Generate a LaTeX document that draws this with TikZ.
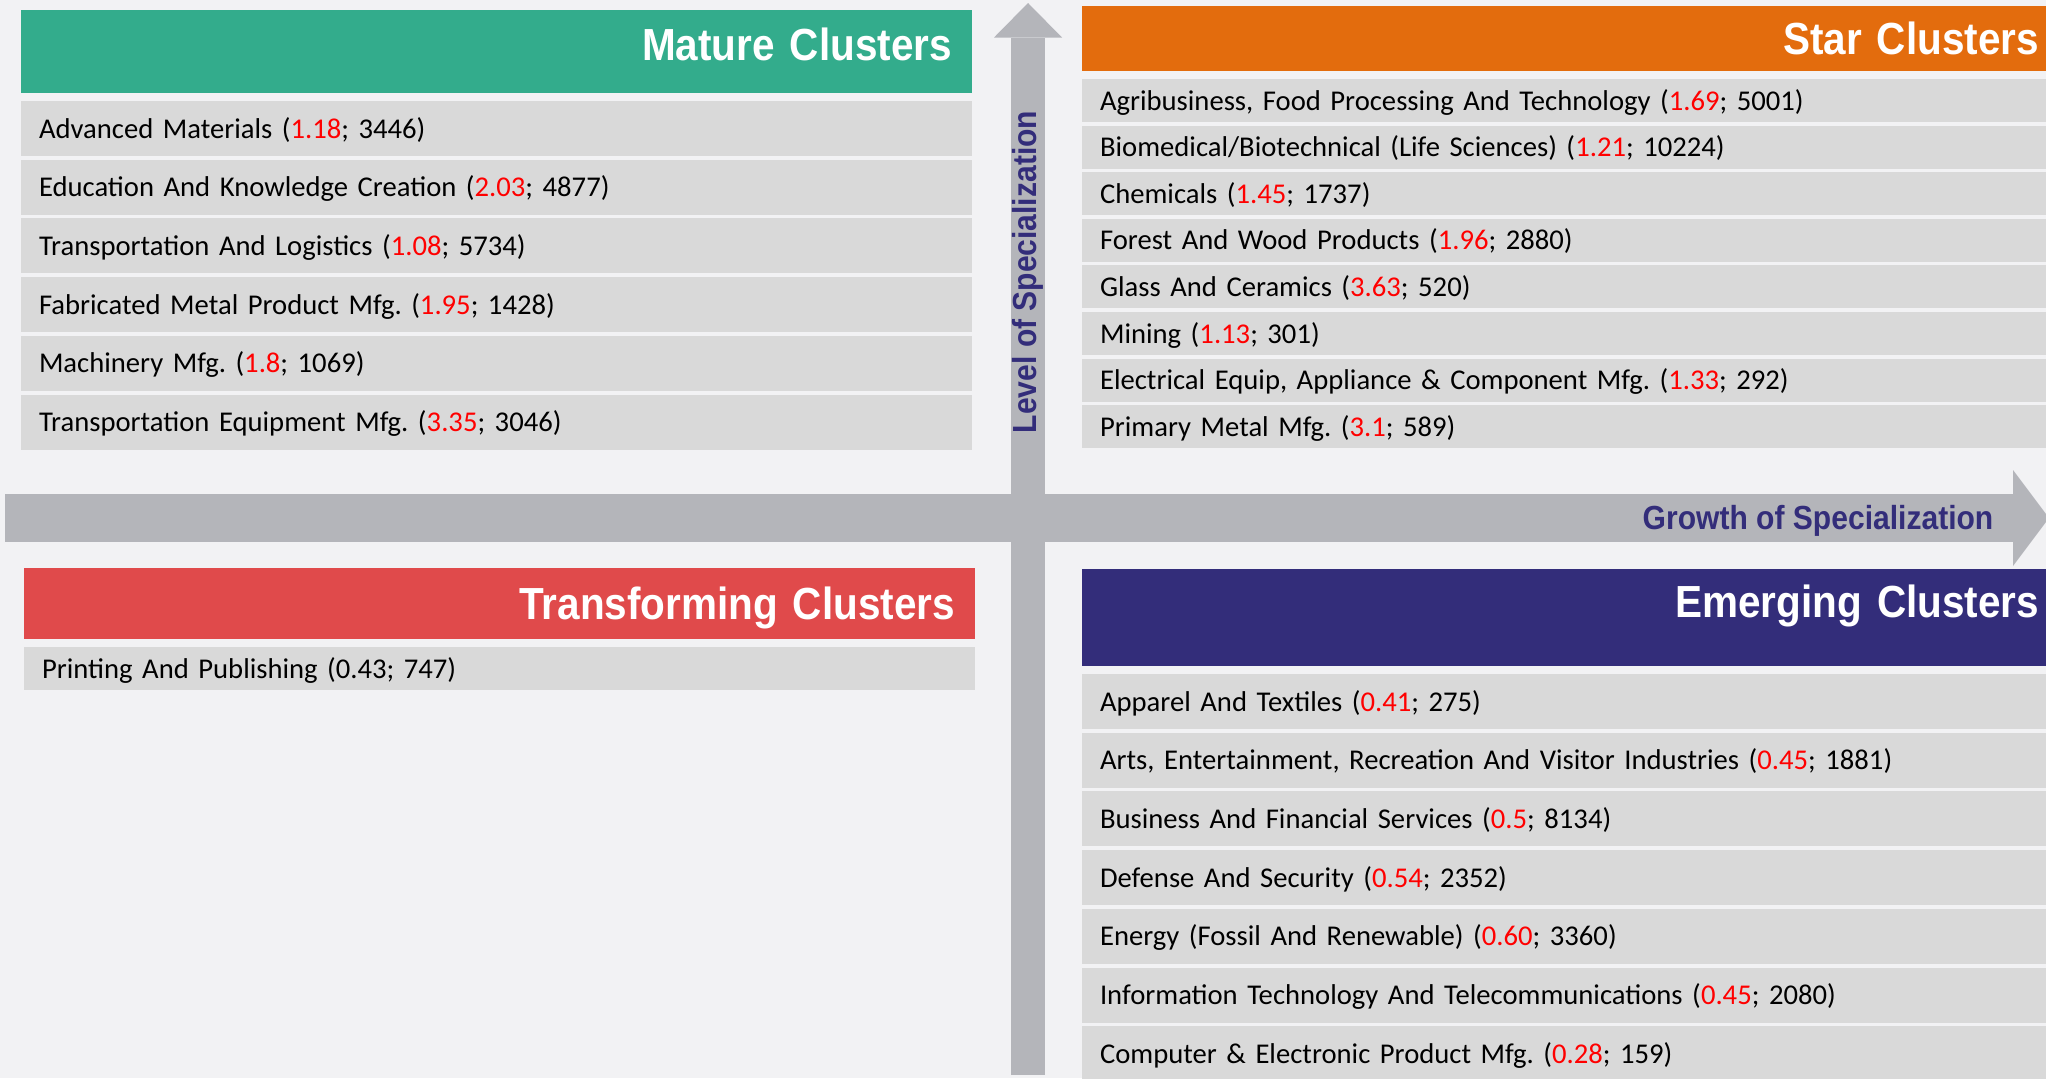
\documentclass[tikz,border=0pt]{standalone}
\usepackage{fontspec}
\setmainfont{Carlito}
\newfontfamily\headfont[FakeStretch=0.9]{Liberation Sans Bold}
\usepackage{tikz}
\usetikzlibrary{arrows.meta, positioning}

\definecolor{pagegrey}{HTML}{F2F2F4}
\definecolor{rowgrey}{HTML}{D9D9D9}
\definecolor{axisgrey}{HTML}{B4B5BA}
\definecolor{maturegreen}{HTML}{33AC8C}
\definecolor{starorange}{HTML}{E36C0D}
\definecolor{transred}{HTML}{E04A4B}
\definecolor{emergenavy}{HTML}{332D7A}
\definecolor{lqred}{HTML}{FF0000}

\newcommand{\lqval}[1]{\textcolor{lqred}{#1}}

\tikzstyle{header} = [rectangle, inner xsep=2mm, inner ysep=0pt, align=right,
    text=white, text height=3.2mm, font=\headfont\fontsize{12.8}{14}\selectfont]
\tikzstyle{cluster} = [rectangle, fill=rowgrey, inner xsep=1.8mm, inner ysep=0pt,
    align=left, text height=1.9mm, text depth=0pt, font=\fontsize{8.15}{10}\selectfont\frenchspacing]
\tikzstyle{westrow} = [cluster, text width=91.5mm, minimum height=5.5mm]
\tikzstyle{eastrow} = [cluster, text width=94.1mm, minimum height=5.5mm]
\tikzstyle{axis} = [draw, axisgrey]
\tikzstyle{axislabel} = [inner sep=0pt, text=emergenavy,
    font=\headfont\fontsize{9.5}{11}\selectfont]

\begin{document}
\begin{tikzpicture}[x=0.1mm, y=-0.1mm]
    \useasboundingbox (0,0) rectangle (2046,1078);
    \clip (0,0) rectangle (2046,1078);
    \fill [pagegrey] (0,0) rectangle (2046,1078);
    % Axes
    \coordinate (vtail) at (1028,1075);
    \coordinate (vtip) at (1028,3);
    \coordinate (htail) at (5,518);
    \coordinate (htip) at (2049,518);
    \path [axis, line width=3.4mm, -{Triangle[width=6.8mm, length=3.45mm, line width=0pt]}] (vtail) -- (vtip);
    \path [axis, line width=4.8mm, -{Triangle[width=9.6mm, length=3.6mm, line width=0pt]}] (htail) -- (htip);
    \node [axislabel, rotate=90] (level) at (1028,272) {Level of Specialization};
    \node [axislabel, anchor=base east] (growth) at (1994,529) {Growth of Specialization};
    % Headers
    \node [header, text width=91.1mm, minimum height=8.3mm, text depth=1.5mm, fill=maturegreen] (mature) at (496.5,51.5) {Mature Clusters};
    \node [header, text width=93.7mm, minimum height=6.5mm, text depth=0pt, fill=starorange] (star) at (1570.5,38.5) {Star Clusters};
    \node [header, text width=91.1mm, minimum height=7.1mm, text depth=0pt, fill=transred] (transforming) at (499.5,603.5) {Transforming Clusters};
    \node [header, text width=93.7mm, minimum height=9.7mm, text depth=3.3mm, fill=emergenavy] (emerging) at (1570.5,617.5) {Emerging Clusters};
    % Mature rows
    \node [westrow, below of=mature, node distance=7.7mm] (advmat) {Advanced Materials (\lqval{1.18}; 3446)};
    \node [westrow, below of=advmat, node distance=5.87mm] (education) {Education And Knowledge Creation (\lqval{2.03}; 4877)};
    \node [westrow, below of=education, node distance=5.87mm] (logistics) {Transportation And Logistics (\lqval{1.08}; 5734)};
    \node [westrow, below of=logistics, node distance=5.87mm] (fabmetal) {Fabricated Metal Product Mfg. (\lqval{1.95}; 1428)};
    \node [westrow, below of=fabmetal, node distance=5.87mm] (machinery) {Machinery Mfg. (\lqval{1.8}; 1069)};
    \node [westrow, below of=machinery, node distance=5.87mm] (transequip) {Transportation Equipment Mfg. (\lqval{3.35}; 3046)};
    % Star rows
    \node [eastrow, minimum height=4.3mm, below of=star, node distance=6.2mm] (agri) {Agribusiness, Food Processing And Technology (\lqval{1.69}; 5001)};
    \node [eastrow, minimum height=4.3mm, below of=agri, node distance=4.66mm] (biomed) {Biomedical/Biotechnical (Life Sciences) (\lqval{1.21}; 10224)};
    \node [eastrow, minimum height=4.3mm, below of=biomed, node distance=4.66mm] (chemicals) {Chemicals (\lqval{1.45}; 1737)};
    \node [eastrow, minimum height=4.3mm, below of=chemicals, node distance=4.66mm] (forest) {Forest And Wood Products (\lqval{1.96}; 2880)};
    \node [eastrow, minimum height=4.3mm, below of=forest, node distance=4.66mm] (glass) {Glass And Ceramics (\lqval{3.63}; 520)};
    \node [eastrow, minimum height=4.3mm, below of=glass, node distance=4.66mm] (mining) {Mining (\lqval{1.13}; 301)};
    \node [eastrow, minimum height=4.3mm, below of=mining, node distance=4.66mm] (electrical) {Electrical Equip, Appliance \& Component Mfg. (\lqval{1.33}; 292)};
    \node [eastrow, minimum height=4.3mm, below of=electrical, node distance=4.66mm] (primary) {Primary Metal Mfg. (\lqval{3.1}; 589)};
    % Transforming rows
    \node [westrow, minimum height=4.3mm, below of=transforming, node distance=6.5mm] (printing) {Printing And Publishing (0.43; 747)};
    % Emerging rows
    \node [eastrow, below of=emerging, node distance=8.4mm] (apparel) {Apparel And Textiles (\lqval{0.41}; 275)};
    \node [eastrow, below of=apparel, node distance=5.87mm] (arts) {Arts, Entertainment, Recreation And Visitor Industries (\lqval{0.45}; 1881)};
    \node [eastrow, below of=arts, node distance=5.87mm] (business) {Business And Financial Services (\lqval{0.5}; 8134)};
    \node [eastrow, below of=business, node distance=5.87mm] (defense) {Defense And Security (\lqval{0.54}; 2352)};
    \node [eastrow, below of=defense, node distance=5.87mm] (energy) {Energy (Fossil And Renewable) (\lqval{0.60}; 3360)};
    \node [eastrow, below of=energy, node distance=5.87mm] (infotech) {Information Technology And Telecommunications (\lqval{0.45}; 2080)};
    \node [eastrow, below of=infotech, node distance=5.87mm] (computer) {Computer \& Electronic Product Mfg. (\lqval{0.28}; 159)};
\end{tikzpicture}
\end{document}
